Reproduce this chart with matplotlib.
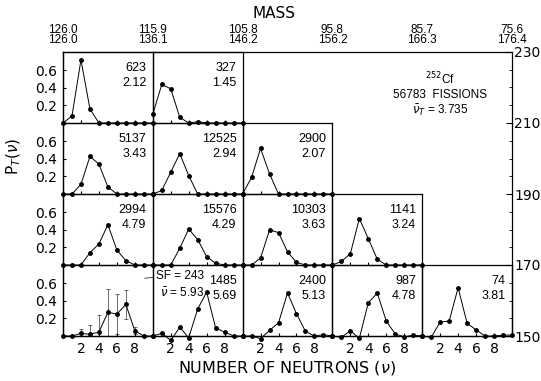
import matplotlib
matplotlib.use("Agg")
import matplotlib.pyplot as plt
from matplotlib.ticker import MultipleLocator

# top axis: mass bin edges (light / heavy fragment)
mass_light = ["126.0", "115.9", "105.8", "95.8", "85.7", "75.6"]
mass_heavy = ["126.0", "136.1", "146.2", "156.2", "166.3", "176.4"]
# right axis: total kinetic energy bin edges
tke_ticks = [150, 170, 190, 210, 230]

nu = list(range(11))

# P_T(nu) per panel, nu = 0..10; rows top (210-230) to bottom (150-170)
panel_row = [0, 0, 1, 1, 1, 2, 2, 2, 2, 3, 3, 3, 3, 3]
panel_col = [0, 1, 0, 1, 2, 0, 1, 2, 3, 0, 1, 2, 3, 4]
panel_count = ["623", "327", "5137", "12525", "2900", "2994", "15576", "10303", "1141",
               "", "1485", "2400", "987", "74"]
panel_mean = ["2.12", "1.45", "3.43", "2.94", "2.07", "4.79", "4.29", "3.63", "3.24",
              "", "5.69", "5.13", "4.78", "3.81"]
panel_prob = [
    [0, 0.08, 0.72, 0.16, 0, 0, 0, 0, 0, 0, 0],
    [0.10, 0.44, 0.39, 0.065, 0, 0.015, 0, 0, 0, 0, 0],
    [0, 0, 0.11, 0.43, 0.34, 0.08, 0, 0, 0, 0, 0],
    [0, 0.04, 0.25, 0.46, 0.21, 0, 0, 0, 0, 0, 0],
    [0, 0.19, 0.52, 0.23, 0, 0, 0, 0, 0, 0, 0],
    [0, 0, 0, 0.14, 0.24, 0.46, 0.17, 0.05, 0, 0, 0],
    [0, 0, 0, 0.19, 0.41, 0.29, 0.095, 0.02, 0, 0, 0],
    [0, 0, 0.08, 0.40, 0.37, 0.15, 0.03, 0, 0, 0, 0],
    [0, 0.04, 0.13, 0.53, 0.30, 0.065, 0, 0, 0, 0, 0],
    [0, 0, 0.03, 0.02, 0.045, 0.27, 0.25, 0.36, 0.06, 0, 0],
    [0, 0.03, -0.05, 0.10, -0.02, 0.31, 0.50, 0.09, 0.045, 0, 0],
    [0, 0, -0.03, 0.065, 0.15, 0.49, 0.255, 0.053, 0, 0.015, 0],
    [0, -0.015, 0.06, -0.027, 0.38, 0.49, 0.17, 0.023, -0.01, 0.01, 0],
    [0, -0.015, 0.16, 0.17, 0.55, 0.145, 0.07, 0, 0, 0.01, 0.01],
]
# error bars of the spontaneous-fission panel (row 4, col 1)
sf_err = [0, 0, 0.05, 0.11, 0.2, 0.27, 0.23, 0.17, 0.04, 0, 0]

narrow = ["Liberation Sans Narrow", "Liberation Sans", "DejaVu Sans"]
plt.rcParams["font.family"] = ["DejaVu Sans"]

fig = plt.figure(figsize=(5.41, 3.81), dpi=100)
ax = fig.add_axes([63 / 541, 45 / 381, 449 / 541, 284 / 381])
ax.set_facecolor("none")
ax.set_xlim(0, 5)
ax.set_ylim(150, 230)
for s in ax.spines.values():
    s.set_linewidth(0.9)

ax.xaxis.tick_top()
ax.set_xticks(range(6))
ax.set_xticklabels([f"{a}\n{b}" for a, b in zip(mass_light, mass_heavy)],
                   fontsize=8.5, linespacing=0.85, family=narrow)
ax.tick_params(axis="x", length=0, pad=4)
ax.yaxis.tick_right()
ax.set_yticks(tke_ticks)
ax.yaxis.set_minor_locator(MultipleLocator(5))
ax.tick_params(axis="y", which="major", direction="in", length=4, labelsize=10, pad=1.5)
ax.tick_params(axis="y", which="minor", direction="in", length=2)

fig.text(0.507, 0.965, "MASS", ha="center", va="center", fontsize=11)
fig.text(0.53, 0.033, "NUMBER OF NEUTRONS ($\\nu$)", ha="center", va="center", fontsize=11.5)
fig.text(0.025, 0.59, "P$_T$($\\nu$)", ha="center", va="center", rotation=90, fontsize=11)

ax.text(4.2, 222.5, "$^{252}$Cf", ha="center", va="center", fontsize=8.5, family=narrow)
ax.text(4.2, 218.0, "56783  FISSIONS", ha="center", va="center", fontsize=8.5, family=narrow)
ax.text(4.2, 213.5, "$\\bar{\\nu}_T$ = 3.735", ha="center", va="center", fontsize=8.5, family=narrow)

for r, c, probs, cnt, mean in zip(panel_row, panel_col, panel_prob, panel_count, panel_mean):
    tke0 = tke_ticks[3 - r]
    p = ax.inset_axes([c, tke0, 1, 20], transform=ax.transData)
    p.set_facecolor("none")
    p.set_xlim(0, 10)
    p.set_ylim(0, 0.81)
    for s in p.spines.values():
        s.set_linewidth(0.9)
    p.plot(nu, probs, color="k", lw=0.7, marker="o", ms=2.5, clip_on=False)
    p.set_xticks([2, 4, 6, 8])
    if r == 3:
        p.tick_params(axis="x", direction="in", length=2.5, labelsize=10, pad=4)
    else:
        p.tick_params(axis="x", direction="in", length=2.5, labelbottom=False)
    if c == 0:
        p.set_yticks([0.2, 0.4, 0.6])
        p.set_yticklabels(["0.2", "0.4", "0.6"])
        p.tick_params(axis="y", direction="in", length=2.5, labelsize=10, pad=4)
    else:
        p.set_yticks([])
    if cnt:
        p.text(0.93, 0.77, cnt, transform=p.transAxes, ha="right", va="center",
               fontsize=9, family=narrow)
        p.text(0.93, 0.56, mean, transform=p.transAxes, ha="right", va="center",
               fontsize=9, family=narrow)
    else:
        p.errorbar(nu, probs, yerr=sf_err, fmt="none", ecolor="k", elinewidth=0.4,
                   capsize=1.2, capthick=0.4)
        p.annotate("SF = 243", xy=(9.1, 0.66), xytext=(10.4, 0.69),
                   ha="left", va="center", fontsize=8.5, family=narrow,
                   annotation_clip=False,
                   arrowprops=dict(arrowstyle="-", lw=0.5, shrinkA=0, shrinkB=0))
        p.text(10.8, 0.49, "$\\bar{\\nu}$ = 5.93", ha="left", va="center",
               fontsize=8.5, family=narrow, clip_on=False)

fig.savefig("out.png", dpi=100)
